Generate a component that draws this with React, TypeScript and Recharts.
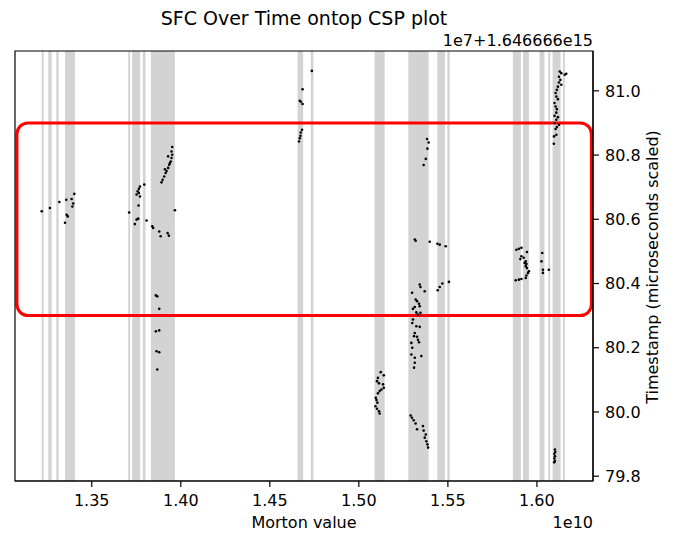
import { ScatterChart, Scatter, XAxis, YAxis, ReferenceArea } from 'recharts';

// bands (Morton value, units of 1e10)
const bandStart = [1.3219, 1.3256, 1.3301, 1.335, 1.3705, 1.3727, 1.3787, 1.3832, 1.4656, 1.473, 1.5088, 1.5278, 1.5441, 1.5497, 1.5865, 1.5922, 1.6015, 1.6064, 1.6088, 1.6146];
const bandEnd = [1.323, 1.3275, 1.3314, 1.3406, 1.3716, 1.3772, 1.3802, 1.3967, 1.4687, 1.4745, 1.5145, 1.5392, 1.5484, 1.551, 1.591, 1.5955, 1.6042, 1.6075, 1.6133, 1.6157];

// highlighted region
const boxX = [1.308, 1.6306];
const boxY = [80.3, 80.9];

// points: morton value (1e10) / timestamp (1e7+1.646666e15)
const mortonX = [
  // ~1.33
  1.3219, 1.3265, 1.3318, 1.3357, 1.335, 1.3359, 1.3365, 1.3391, 1.3396, 1.3402, 1.3387,
  // ~1.38
  1.371, 1.3742, 1.3752, 1.3761, 1.3763, 1.3752, 1.3758, 1.3765, 1.3771, 1.3765, 1.3771, 1.3795, 1.3808,
  1.384, 1.3845, 1.3879, 1.3887, 1.3926, 1.3933, 1.3967,
  1.3892, 1.3898, 1.3907, 1.3915, 1.392, 1.3929, 1.3935, 1.3944, 1.3948, 1.3952, 1.3948, 1.3952, 1.3929, 1.3939, 1.3911,
  1.386, 1.3868, 1.3879, 1.386, 1.3879, 1.3864, 1.3879, 1.3868,
  // ~1.47
  1.4736, 1.4684, 1.4668, 1.4674, 1.4684, 1.4681, 1.4674, 1.4672, 1.4668, 1.4664,
  // ~1.51
  1.5123, 1.514, 1.5107, 1.5102, 1.5113, 1.5136, 1.514, 1.5127, 1.5117, 1.5107, 1.5095, 1.5099, 1.5104, 1.5093, 1.5102, 1.5113, 1.5117,
  // ~1.53
  1.5291, 1.5298, 1.5308, 1.5319, 1.5327, 1.536, 1.5364, 1.5376, 1.537, 1.5379, 1.5385, 1.5389,
  1.5295, 1.53, 1.5314, 1.531, 1.5332, 1.5338, 1.5295, 1.5351, 1.5314, 1.5314, 1.531, 1.5327,
  1.5319, 1.5327, 1.5338, 1.5342, 1.5314, 1.5304, 1.5323, 1.5346, 1.5332, 1.5304, 1.53, 1.5323, 1.5342,
  1.5342, 1.5346, 1.5299, 1.537,
  1.5314, 1.5319, 1.5398, 1.5441, 1.5454, 1.5488,
  1.5443, 1.5454, 1.5469, 1.5506,
  1.5383, 1.5392, 1.5385, 1.5376, 1.5364,
  // ~1.59
  1.5885, 1.5899, 1.5913, 1.5944, 1.5913, 1.5907, 1.5926, 1.5937, 1.5931, 1.5941, 1.5937, 1.5944, 1.5955, 1.595,
  1.5941, 1.5937, 1.5913, 1.5881, 1.5899, 1.603, 1.6026, 1.6034, 1.6034, 1.6067,
  // ~1.61
  1.6128, 1.6137, 1.6156, 1.6165, 1.6124, 1.6132, 1.6124, 1.6137, 1.6118, 1.6112, 1.6105, 1.6109, 1.6118, 1.6099,
  1.6105, 1.6112, 1.6109, 1.6099, 1.6118, 1.6109, 1.6099, 1.6124, 1.6112, 1.6105, 1.6109, 1.6096, 1.6095,
  1.6101, 1.6103, 1.6098, 1.6101, 1.6098, 1.6101, 1.6097,
];
const stampY = [
  80.625, 80.635, 80.654, 80.661, 80.589, 80.614, 80.609, 80.64, 80.649, 80.679, 80.663,
  80.621, 80.585, 80.599, 80.602, 80.643, 80.677, 80.687, 80.695, 80.702, 80.682, 80.671, 80.708, 80.596,
  80.578, 80.573, 80.562, 80.547, 80.557, 80.549, 80.628,
  80.715, 80.723, 80.733, 80.744, 80.75, 80.76, 80.77, 80.78, 80.791, 80.801, 80.811, 80.825, 80.796, 80.775, 80.756,
  80.363, 80.36, 80.321, 80.251, 80.254, 80.189, 80.186, 80.132,
  81.062, 81.005, 80.969, 80.966, 80.959, 80.879, 80.87, 80.86, 80.852, 80.842,
  80.124, 80.114, 80.106, 80.096, 80.089, 80.086, 80.075, 80.07, 80.065, 80.058, 80.044, 80.037, 80.029, 80.018, 80.01, 80.002, 79.995,
  79.989, 79.982, 79.974, 79.964, 79.946, 79.956, 79.942, 79.93, 79.92, 79.909, 79.899, 79.889,
  80.215, 80.2, 80.246, 80.236, 80.225, 80.217, 80.179, 80.174, 80.169, 80.153, 80.138, 80.234,
  80.35, 80.345, 80.337, 80.329, 80.327, 80.321, 80.31, 80.309, 80.303, 80.288, 80.277, 80.267, 80.265,
  80.397, 80.389, 80.371, 80.376,
  80.537, 80.533, 80.53, 80.524, 80.521, 80.516,
  80.379, 80.389, 80.4, 80.405,
  80.85, 80.839, 80.82, 80.788, 80.769,
  80.505, 80.508, 80.511, 80.498, 80.485, 80.476, 80.48, 80.469, 80.464, 80.461, 80.454, 80.448, 80.438, 80.433,
  80.425, 80.417, 80.414, 80.41, 80.412, 80.495, 80.469, 80.443, 80.433, 80.443,
  81.06, 81.055, 81.05, 81.053, 81.044, 81.034, 81.026, 81.019, 81.013, 81.003, 80.993, 80.982, 80.974, 80.962,
  80.951, 80.943, 80.932, 80.922, 80.918, 80.91, 80.9, 80.894, 80.887, 80.881, 80.863, 80.858, 80.835,
  79.883, 79.876, 79.87, 79.862, 79.855, 79.847, 79.843,
];

const xTicks = [1.35, 1.4, 1.45, 1.5, 1.55, 1.6];
const yTicks = [79.8, 80.0, 80.2, 80.4, 80.6, 80.8, 81.0];
const xDomain = [1.3069, 1.6315];
const yDomain = [79.785, 81.124];

const font = 'DejaVu Sans, sans-serif';

if (typeof document !== 'undefined') document.body.style.margin = '0';

export default function App() {
  const data = mortonX.map((x, i) => ({ x, y: stampY[i] }));
  const tickStyle = { fill: '#000', fontSize: 16, fontFamily: font };

  return (
    <div style={{ position: 'relative', width: 674, height: 533, background: '#fff', fontFamily: font, color: '#000' }}>
      <ScatterChart width={674} height={533} margin={{ top: 51, left: 15, right: 11, bottom: 12 }}>
        <XAxis
          type="number"
          dataKey="x"
          domain={xDomain}
          ticks={xTicks}
          interval={0}
          allowDataOverflow
          height={40}
          tickSize={6}
          tickMargin={8}
          tick={tickStyle}
          tickFormatter={(v) => v.toFixed(2)}
          axisLine={{ stroke: '#000', strokeWidth: 1.2 }}
          tickLine={{ stroke: '#000', strokeWidth: 1.2 }}
        />
        <YAxis
          type="number"
          dataKey="y"
          orientation="right"
          domain={yDomain}
          ticks={yTicks}
          interval={0}
          allowDataOverflow
          width={70}
          tickSize={6}
          tickMargin={6}
          tick={tickStyle}
          tickFormatter={(v) => v.toFixed(1)}
          axisLine={{ stroke: '#000', strokeWidth: 1.2 }}
          tickLine={{ stroke: '#000', strokeWidth: 1.2 }}
        />
        {bandStart.map((s, i) => (
          <ReferenceArea key={i} x1={s} x2={bandEnd[i]} y1={yDomain[0]} y2={yDomain[1]} fill="#d3d3d3" fillOpacity={1} stroke="none" ifOverflow="visible" />
        ))}
        <Scatter
          data={data}
          isAnimationActive={false}
          shape={(p: any) => <circle cx={p.cx} cy={p.cy} r={1.3} fill="#000" />}
        />
        <ReferenceArea
          x1={boxX[0]}
          x2={boxX[1]}
          y1={boxY[0]}
          y2={boxY[1]}
          ifOverflow="visible"
          shape={(p: any) => (
            <rect x={p.x} y={p.y} width={p.width} height={p.height} rx={11} ry={11} fill="none" stroke="#ff0000" strokeWidth={3} />
          )}
        />
        <ReferenceArea
          x1={xDomain[0]}
          x2={xDomain[1]}
          y1={yDomain[0]}
          y2={yDomain[1]}
          ifOverflow="visible"
          fill="none"
          stroke="#000"
          strokeWidth={1.2}
        />
      </ScatterChart>
      <div style={{ position: 'absolute', left: 304, top: 18, transform: 'translate(-50%, -50%)', fontSize: 19, whiteSpace: 'nowrap' }}>
        SFC Over Time ontop CSP plot
      </div>
      <div style={{ position: 'absolute', right: 674 - 593, top: 40, transform: 'translateY(-50%)', fontSize: 16, whiteSpace: 'nowrap' }}>
        1e7+1.646666e15
      </div>
      <div style={{ position: 'absolute', left: 304, top: 522, transform: 'translate(-50%, -50%)', fontSize: 16, whiteSpace: 'nowrap' }}>
        Morton value
      </div>
      <div style={{ position: 'absolute', right: 674 - 593, top: 522, transform: 'translateY(-50%)', fontSize: 16, whiteSpace: 'nowrap' }}>
        1e10
      </div>
      <div style={{ position: 'absolute', left: 652, top: 267, transform: 'translate(-50%, -50%) rotate(-90deg)', fontSize: 16, whiteSpace: 'nowrap' }}>
        Timestamp (microseconds scaled)
      </div>
    </div>
  );
}
